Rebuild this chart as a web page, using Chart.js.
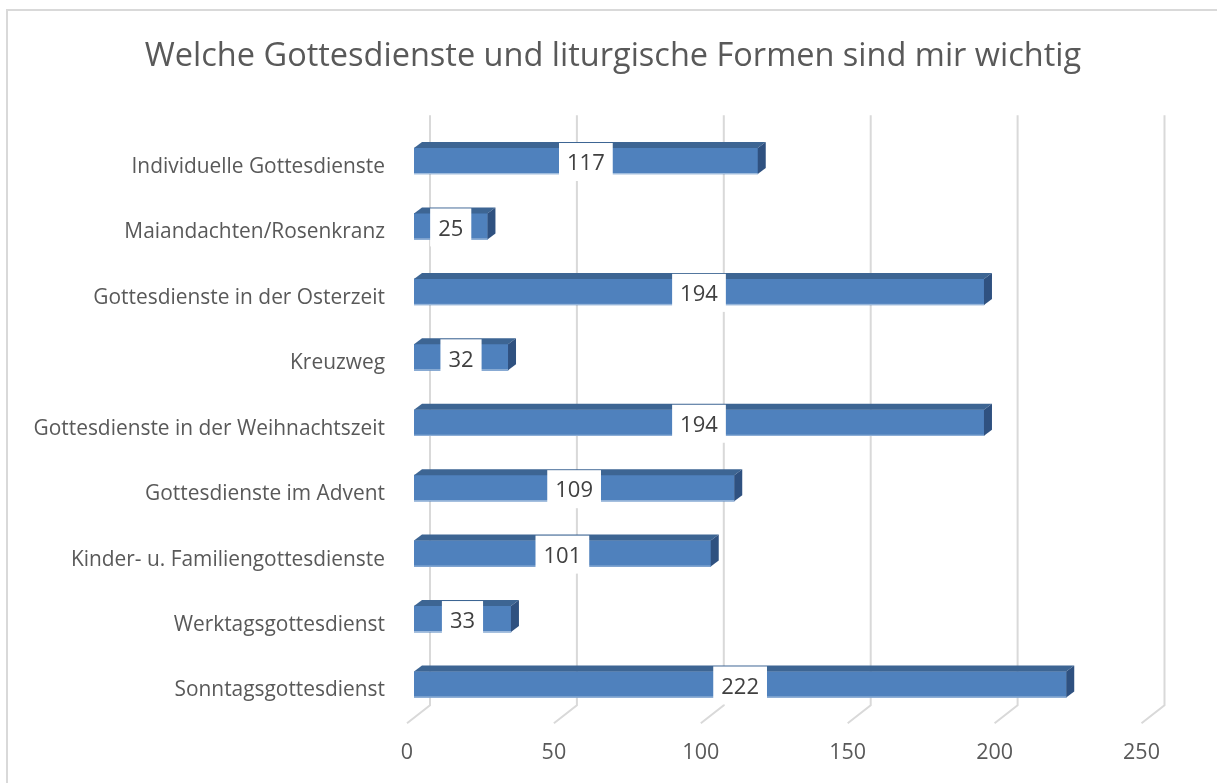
<!DOCTYPE html>
<html><head><meta charset="utf-8">
<script src="https://cdn.jsdelivr.net/npm/chart.js@4"></script>
<style>html,body{margin:0;padding:0;background:#fff;overflow:hidden}</style>
</head><body>
<canvas id="c" width="1217" height="783"></canvas>
<script>
const chartTitle = "Welche Gottesdienste und liturgische Formen sind mir wichtig";
const categories = [
  "Individuelle Gottesdienste",
  "Maiandachten/Rosenkranz",
  "Gottesdienste in der Osterzeit",
  "Kreuzweg",
  "Gottesdienste in der Weihnachtszeit",
  "Gottesdienste im Advent",
  "Kinder- u. Familiengottesdienste",
  "Werktagsgottesdienst",
  "Sonntagsgottesdienst"
];
const values = [117, 25, 194, 32, 194, 109, 101, 33, 222];
const xTicks = [0, 50, 100, 150, 200, 250];

const FONT = "'Open Sans', sans-serif";
const TEXT = "#595959";
const DX = 8, DY = 6;

const frame = {
  id: 'frame',
  beforeDraw(chart) {
    const ctx = chart.ctx;
    ctx.save();
    ctx.strokeStyle = '#D9D9D9';
    ctx.lineWidth = 2;
    ctx.beginPath();
    ctx.moveTo(7, 783); ctx.lineTo(7, 10); ctx.lineTo(1217, 10);
    ctx.stroke();
    ctx.restore();
  }
};

const titlePos = {
  id: 'titlePos',
  afterLayout(chart) {
    const t = chart.titleBlock;
    if (t) { t.left = 9; t.right = 1217; t.width = t.right - t.left; }
  }
};

const grid3d = {
  id: 'grid3d',
  beforeDatasetsDraw(chart) {
    const ctx = chart.ctx, sx = chart.scales.x, ca = chart.chartArea;
    ctx.save();
    ctx.strokeStyle = '#D9D9D9';
    ctx.lineWidth = 2;
    xTicks.forEach(v => {
      const xf = sx.getPixelForValue(v);
      ctx.beginPath();
      ctx.moveTo(xf + 16, ca.top - 13);
      ctx.lineTo(xf + 16, ca.bottom - 12);
      ctx.lineTo(xf - 7, ca.bottom + 6);
      ctx.stroke();
    });
    ctx.restore();
  }
};

const bars3d = {
  id: 'bars3d',
  afterDatasetsDraw(chart) {
    const ctx = chart.ctx;
    const meta = chart.getDatasetMeta(0);
    ctx.save();
    meta.data.forEach((el, i) => {
      const p = el.getProps(['x', 'y', 'base', 'height'], true);
      const top = p.y - p.height / 2, bot = p.y + p.height / 2;
      ctx.fillStyle = '#3D6593';
      ctx.beginPath();
      ctx.moveTo(p.base, top);
      ctx.lineTo(p.base + DX, top - DY);
      ctx.lineTo(p.x + DX, top - DY);
      ctx.lineTo(p.x, top);
      ctx.closePath();
      ctx.fill();
      ctx.fillStyle = '#2F5180';
      ctx.beginPath();
      ctx.moveTo(p.x, top);
      ctx.lineTo(p.x + DX, top - DY);
      ctx.lineTo(p.x + DX, bot - DY);
      ctx.lineTo(p.x, bot);
      ctx.closePath();
      ctx.fill();
      ctx.strokeStyle = 'rgba(170,195,225,0.9)';
      ctx.lineWidth = 1;
      ctx.beginPath();
      ctx.moveTo(p.base, bot - 0.5);
      ctx.lineTo(p.x, bot - 0.5);
      ctx.stroke();
    });
    ctx.font = "22px " + FONT;
    ctx.textAlign = 'center';
    ctx.textBaseline = 'middle';
    meta.data.forEach((el, i) => {
      const p = el.getProps(['x', 'y', 'base', 'height'], true);
      const top = p.y - p.height / 2, bot = p.y + p.height / 2;
      const txt = String(values[i]);
      const tw = ctx.measureText(txt).width;
      const cx = (p.x + p.base) / 2;
      ctx.fillStyle = '#FFFFFF';
      ctx.fillRect(cx - tw / 2 - 8, top - 5, tw + 16, (bot + 7) - (top - 5));
      ctx.fillStyle = '#404040';
      ctx.fillText(txt, cx, p.y + 3);
    });
    ctx.restore();
  }
};

new Chart(document.getElementById('c'), {
  type: 'bar',
  data: {
    labels: categories,
    datasets: [{
      data: values,
      backgroundColor: '#4F81BD',
      borderWidth: 0,
      barThickness: 26
    }]
  },
  options: {
    responsive: false,
    animation: false,
    indexAxis: 'y',
    layout: { padding: { left: 7, right: 68.5, top: 0, bottom: 0 } },
    plugins: {
      legend: { display: false },
      tooltip: { enabled: false },
      title: {
        display: true,
        text: chartTitle,
        color: TEXT,
        font: { family: FONT, size: 32.5, weight: 'normal', lineHeight: 1.2 },
        padding: { top: 37.5, bottom: 51.8 }
      }
    },
    scales: {
      x: {
        min: 0, max: 250,
        afterBuildTicks(s) { s.ticks = xTicks.map(v => ({ value: v })); },
        afterFit(s) { s.height = 65.8; },
        grid: { display: false, drawTicks: false },
        border: { display: false },
        ticks: {
          color: TEXT,
          font: { family: FONT, size: 21.5 },
          padding: 23,
          labelOffset: -7
        }
      },
      y: {
        afterFit(s) { s.width = 414 - 7; },
        grid: { display: false, drawTicks: false },
        border: { display: false },
        ticks: {
          color: TEXT,
          font: { family: FONT, size: 20.9 },
          padding: 29,
          labelOffset: 6
        }
      }
    }
  },
  plugins: [frame, titlePos, grid3d, bars3d]
});
</script>
</body></html>
